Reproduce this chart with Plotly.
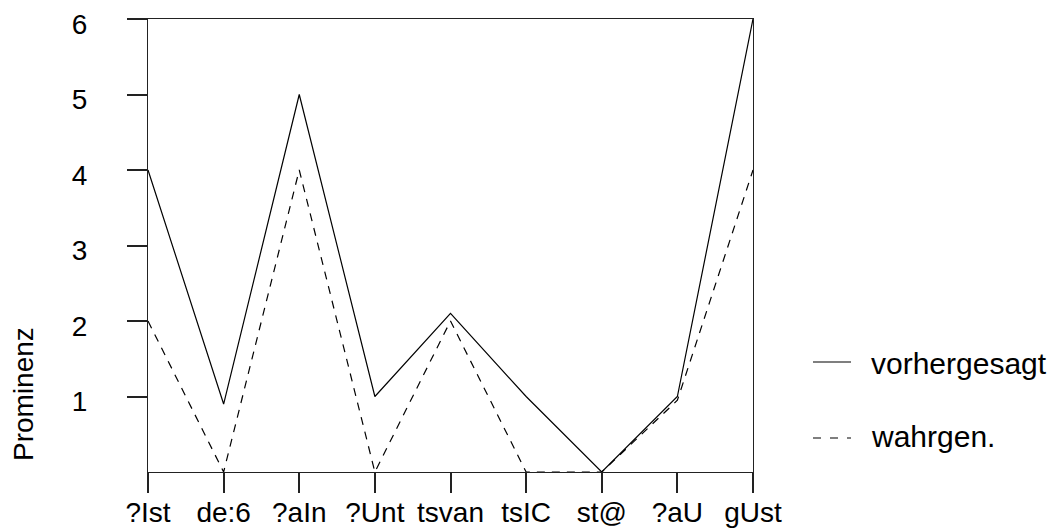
import plotly.graph_objects as go

# Silben / syllables on the x axis
silben = ["?Ist", "de:6", "?aIn", "?Unt", "tsvan", "tsIC", "st@", "?aU", "gUst"]

# Prominence values per syllable
vorhergesagt = [4, 0.9, 5, 1, 2.1, 1, 0, 1, 6]
wahrgenommen = [2, 0, 4, 0, 2, 0, 0, 0.95, 4]

y_ticks = [1, 2, 3, 4, 5, 6]

legend_labels = ["vorhergesagt", "wahrgen."]

FONT = "Liberation Sans, Arial, sans-serif"
W, H = 1053, 530
L, R, T, B = 148, 300, 19, 58
plot_w = W - L - R
plot_h = H - T - B


def px(x):
    return (x - L) / plot_w


def py(y):
    return (H - B - y) / plot_h


fig = go.Figure()
fig.add_trace(go.Scatter(
    x=silben, y=vorhergesagt, mode="lines",
    line=dict(color="black", width=1.2),
    name=legend_labels[0], showlegend=False, cliponaxis=False,
))
fig.add_trace(go.Scatter(
    x=silben, y=wahrgenommen, mode="lines",
    line=dict(color="black", width=1.2, dash="8px,7px"),
    name=legend_labels[1], showlegend=False, cliponaxis=False,
))

axis_common = dict(
    showgrid=False, zeroline=False, automargin=False,
    showline=True, linecolor="#222", linewidth=1.2, mirror=True,
    ticks="outside", ticklen=20, tickwidth=1.5, tickcolor="#222",
    tickfont=dict(family=FONT, size=28, color="black"),
)

fig.update_xaxes(
    type="category", categoryorder="array", categoryarray=silben,
    range=[0, len(silben) - 1], ticklabelstandoff=-5, **axis_common,
)
fig.update_yaxes(
    range=[0, 6], tickvals=y_ticks, ticktext=[str(v) for v in y_ticks],
    ticklabelstandoff=34, ticklabelshift=5, **axis_common,
)

# Legend drawn by hand to the right of the plot
shapes = [
    dict(type="line", xref="paper", yref="paper",
         x0=px(813), x1=px(851), y0=py(362), y1=py(362),
         line=dict(color="black", width=1.2)),
    dict(type="line", xref="paper", yref="paper",
         x0=px(813), x1=px(851), y0=py(438), y1=py(438),
         line=dict(color="black", width=1.2, dash="8px,9px")),
]
annotations = [
    dict(text=legend_labels[0], xref="paper", yref="paper",
         x=px(869), y=py(363), xanchor="left", yanchor="middle",
         showarrow=False, font=dict(family=FONT, size=30, color="black")),
    dict(text=legend_labels[1], xref="paper", yref="paper",
         x=px(869), y=py(436), xanchor="left", yanchor="middle",
         showarrow=False, font=dict(family=FONT, size=30, color="black")),
    dict(text="Prominenz", xref="paper", yref="paper",
         x=px(23), y=py(394), xanchor="center", yanchor="middle",
         textangle=-90, showarrow=False,
         font=dict(family=FONT, size=28, color="black")),
]

fig.update_layout(
    width=W, height=H,
    margin=dict(l=L, r=R, t=T, b=B),
    paper_bgcolor="white", plot_bgcolor="white",
    showlegend=False,
    shapes=shapes, annotations=annotations,
)

fig.write_html("out.html")
